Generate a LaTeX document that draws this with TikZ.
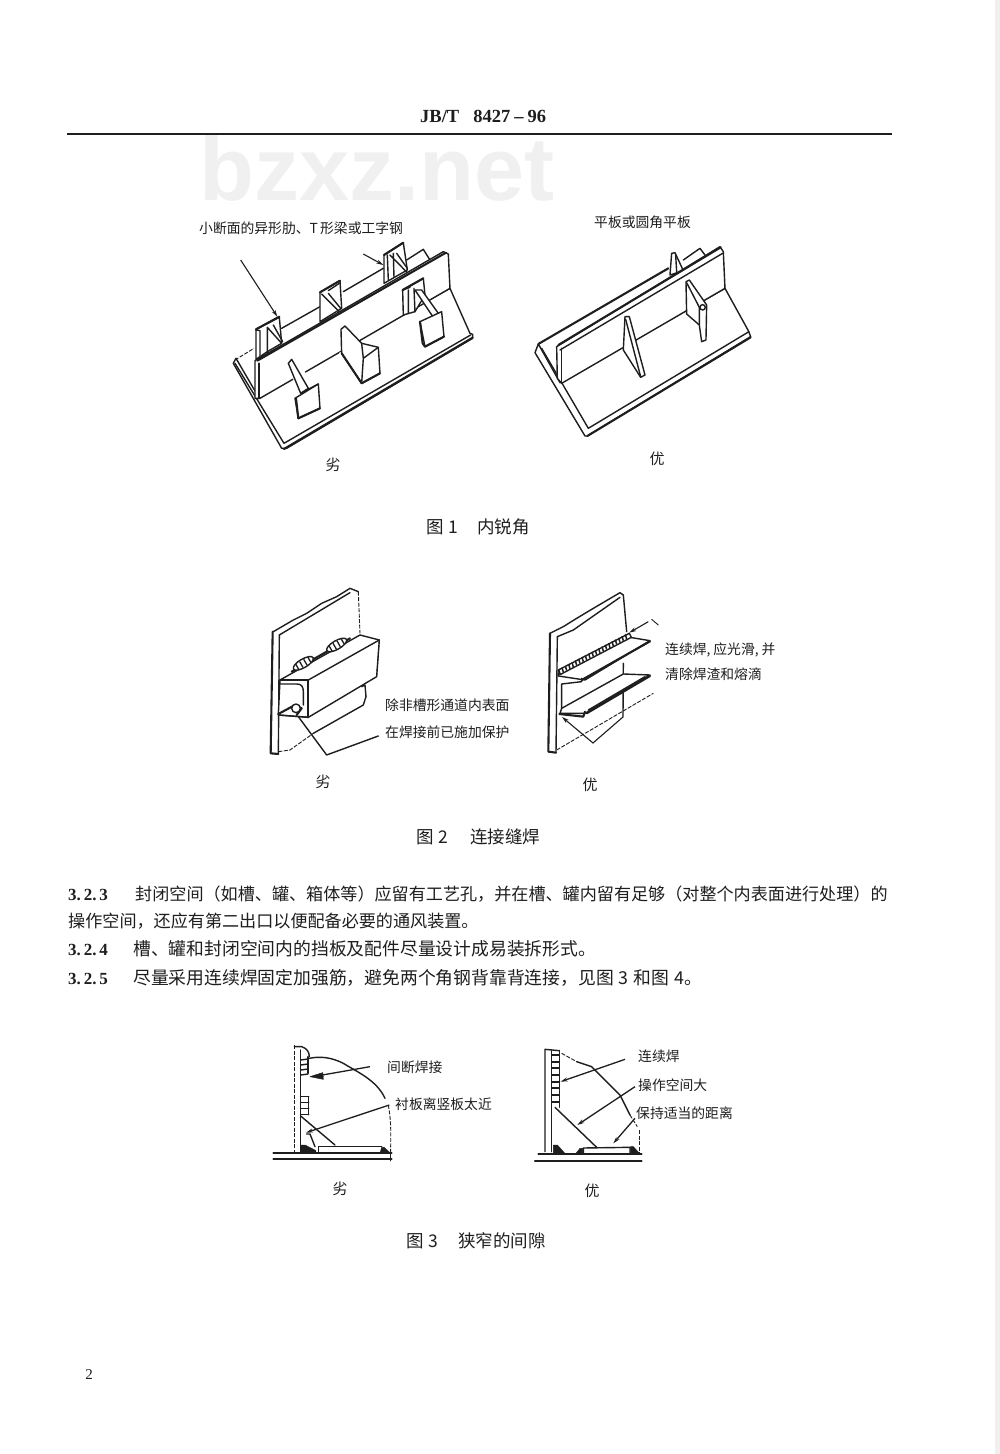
\documentclass[tikz,border=0pt]{standalone}
\usepackage{fontspec}
\setmainfont{Liberation Serif}
\newfontfamily\cjk{Noto Sans CJK SC}
\newfontfamily\wm{Liberation Sans}
\usetikzlibrary{arrows.meta}
\definecolor{ink}{HTML}{1E1E1E}
\newcommand{\qcm}{\char"FF0C\relax}
\newcommand{\qlp}{\char"FF08\relax}
\newcommand{\qrp}{\char"FF09\relax}
\tikzset{
 fig/.style={x=.3333pt,y=-.3333pt,shift={(#1)}},
 ln/.style={draw=ink,line width=1.4pt,line join=round,line cap=round},
 hv/.style={draw=ink,line width=2.1pt,line join=round,line cap=round},
 thn/.style={draw=ink,line width=.9pt,line join=round,line cap=round},
 dsh/.style={draw=ink,line width=.9pt,dash pattern=on 4pt off 1.5pt},
 face/.style={ln,fill=white},
 wfill/.style={fill=ink,draw=ink,line width=.5pt,line join=round},
 lead/.style={draw=ink,line width=1.1pt,-{Stealth[length=7pt,width=4pt]}},
 lab/.style={inner sep=0pt,anchor=base west,text=ink,font=\cjk\fontsize{13.8}{14}\selectfont},
 body/.style={inner sep=0pt,anchor=base west,text=ink,font=\cjk\fontsize{17.1}{17}\selectfont},
 bodyw/.style={body,font=\cjk\fontsize{17.8}{18}\selectfont},
 num/.style={inner sep=0pt,anchor=base west,text=ink,font=\bfseries\fontsize{17}{17}\selectfont},
 cpt/.style={inner sep=0pt,anchor=center,text=ink,font=\cjk\fontsize{15}{16}\selectfont},
 ttl/.style={inner sep=0pt,anchor=base west,text=ink,font=\cjk\fontsize{17.5}{18}\selectfont},
}
\begin{document}
\begin{tikzpicture}[x=1pt,y=-1pt]
\useasboundingbox (0,0) rectangle (1000,1454);
\fill[white] (0,0) rectangle (1000,1454);
\fill[black!6] (995,0) rectangle (1000,1454);
% header
\node[inner sep=0pt,anchor=base west,text=black!6,font=\wm\bfseries\fontsize{90}{90}\selectfont] (wm) at (199,200) {bzxz.net};
\node[inner sep=0pt,anchor=base west,text=ink,font=\bfseries\fontsize{18.5}{18}\selectfont] (hd) at (420,122) {JB/T\hspace{14pt}8427\hspace{4pt}--\hspace{4pt}96};
\coordinate (ra) at (67,134); \coordinate (rb) at (892,134);
\draw[ink,line width=1.1pt] (ra) -- (rb);

% ---------- Fig 1 left
\begin{scope}[fig={180pt,-200pt}]
 \draw[dsh] (165,480)--(222,445);
 \draw[ln] (305,385)--(420,320) (490,275)--(610,205) (680,180)--(730,148)--(750,180);
 % rear ribs
 \draw[face] (228,478)--(228,388)--(298,352)--(305,430)--(262,455)--cycle;
 \draw[ln] (240,470)--(240,392) (262,460)--(262,382) (262,382)--(305,430) (280,375)--(308,425) (228,390)--(240,392);
 \draw[hv] (228,388)--(298,350);
 \draw[face] (420,365)--(420,277)--(480,242)--(485,325)--cycle;
 \draw[ln] (425,282)--(478,335) (445,280)--(482,325) (445,272)--(478,250);
 \draw[hv] (420,277)--(480,242);
 \draw[face] (612,250)--(612,165)--(670,128)--(682,210)--cycle;
 \draw[ln] (622,165)--(625,240) (640,160)--(642,230) (630,165)--(682,218) (650,160)--(682,205);
 \draw[hv] (612,165)--(670,128);
 % base plate
 \draw[face] (160,490)--(168,475)--(232,585)--(810,265)--(870,400)--(878,403)--(878,415)--(320,745)--(305,745)--cycle;
 \draw[ln] (165,490)--(312,730)--(872,405);
 \draw[hv] (312,747)--(878,413);
 % vertical plate
 \draw[face] (225,482)--(790,155)--(805,162)--(810,265)--(240,595)--(225,595)--cycle;
 \draw[hv] (232,482)--(798,158);
 \draw[hv] (236,490)--(236,595);
 \draw[draw=white,line width=3pt] (340,538)--(375,516) (480,462)--(545,428);
 % front ribs
 \draw[face] (668,270)--(730,235)--(735,285)--(705,335)--(670,345)--cycle;
 \draw[ln] (685,270)--(685,340) (702,265)--(705,335) (668,270)--(690,262);
 \draw[hv] (668,270)--(730,235);
 \draw[face] (705,270)--(725,270)--(775,340)--(760,352)--cycle;
 \draw[face] (720,365)--(785,335)--(792,410)--(735,440)--cycle;
 \draw[hv] (735,440)--(792,410) (720,365)--(728,430)--(735,440);
 \draw[face] (483,388)--(495,378)--(545,430)--(595,442)--(600,520)--(545,550)--(485,460)--cycle;
 \draw[ln] (545,430)--(550,475)--(545,550) (550,475)--(595,442);
 \draw[hv] (485,460)--(545,550)--(600,520);
 \draw[face] (325,490)--(335,478)--(385,565)--(362,580)--cycle;
 \draw[face] (345,595)--(415,552)--(420,625)--(355,655)--cycle;
 \draw[ln] (362,580)--(415,552);
 \draw[hv] (355,655)--(420,625);
 \draw[hv] (348,595)--(355,655);
 % leaders
 \coordinate (a1) at (182,180); \coordinate (a1e) at (292,350);
 \coordinate (a2) at (550,162); \coordinate (a2e) at (610,195);
 \draw[lead] (a1)--(a1e);
 \draw[lead] (a2)--(a2e);
\end{scope}
\node[lab] (t1) at (199,233) {小断面的异形肋、T\,形梁或工字钢};
\node[cpt] (t2) at (333,465) {劣};

% ---------- Fig 1 right
\begin{scope}[fig={510pt,-200pt}]
 \draw[hv] (85,432)--(475,205);
 \draw[ln] (520,180)--(570,145)--(585,165);
 \draw[face] (480,225)--(485,160)--(495,158)--(520,212)--cycle;
 \draw[ln] (497,165)--(500,215);
 % base
 \draw[face] (75,458)--(85,432)--(150,548)--(645,265)--(715,392)--(722,410)--(232,708)--(225,708)--cycle;
 \draw[ln] (95,445)--(235,685)--(717,395);
 \draw[hv] (232,708)--(722,412);
 % plate
 \draw[face] (140,440)--(630,140)--(640,155)--(645,265)--(155,550)--(142,535)--cycle;
 \draw[hv] (145,435)--(632,142);
 \draw[ln] (150,450)--(638,160);
 \draw[ln] (155,445)--(155,550);
 % ribs
 \draw[face] (340,450)--(345,350)--(358,350)--(405,525)--(392,532)--cycle;
 \draw[ln] (347,358)--(392,530);
 \draw[face] (530,342)--(528,245)--(538,240)--(590,315)--(588,420)--(575,425)--(568,375)--cycle;
 \draw[ln] (530,248)--(568,322)--(568,375);
 \draw[face] (578,322) circle [radius=8];
\end{scope}
\node[lab] (t3) at (594,227) {平板或圆角平板};
\node[cpt] (t4) at (657,459) {优};
\node[ttl] (c1) at (426,533) {图\hspace{5pt}1\hspace{19pt}内锐角};

% ---------- Fig 2 left
\begin{scope}[fig={250pt,-580pt}]
 \draw[ln] (70,155)--(130,120)--(170,100)--(215,70)--(260,50)--(300,25)--(325,35);
 \draw[dsh] (325,35)--(330,160);
 \draw[ln] (88,165)--(300,38);
 \draw[hv] (68,155)--(62,520)--(85,522);
 \draw[ln] (88,165)--(85,520);
 \draw[dsh] (85,515)--(120,510)--(190,460);
 \draw[ln] (190,460)--(340,375)--(348,350);
 \draw[ln] (335,320)--(345,315)--(348,350);
 \draw[face] (90,300)--(330,165)--(388,180)--(380,290)--(175,412)--(85,405)--cycle;
 \draw[ln] (175,300)--(388,180);
 \draw[hv] (90,300)--(175,300)--(175,412);
 \draw[ln] (92,312)--(140,312) .. controls (155,312) and (160,320) .. (160,335)--(160,375);
 \draw[ln] (85,405)--(175,412);
 \draw[hv] (85,402)--(135,375)--(155,385)--(140,405);
 \draw[ln,fill=white] (138,385) circle [radius=13];
 \draw[dsh] (388,180)--(380,290);
 \draw[hv] (125,275)--(300,175);
 \foreach \c in {(160,250),(260,195)}
  \draw[ln,fill=white,shift={\c},rotate=30] (0,0) ellipse [x radius=34,y radius=13];
 \foreach \c in {(160,250),(260,195)}
  \foreach \d in {-21,-7,7,21}
   \draw[draw=ink,line width=1.3pt,shift={\c},rotate=30] (\d,-10)--(\d,10);
 \coordinate (b1) at (145,410); \coordinate (b2) at (230,525); \coordinate (b3) at (385,468);
 \draw[ln] (b1)--(b2)--(b3);
\end{scope}
\node[lab] (t5) at (385,710) {除非槽形通道内表面};
\node[lab] (t6) at (385,737) {在焊接前已施加保护};
\node[cpt] (t7) at (323,782) {劣};

% ---------- Fig 2 right
\begin{scope}[fig={530pt,-580pt}]
 \draw[ln] (60,160)--(100,140)--(140,115)--(190,85)--(270,38)--(280,45);
 \draw[ln] (280,45)--(290,155);
 \draw[ln] (82,170)--(130,150)--(270,52);
 \draw[hv] (60,160)--(55,515)--(78,518);
 \draw[ln] (82,170)--(78,518);
 \draw[dsh] (80,510)--(370,340);
 \draw[ln] (280,250)--(279,411);
 % upper angle
 \draw[face] (85,280)--(300,172)--(360,182)--(165,300)--(85,288)--cycle;
 \draw[hv] (155,300)--(360,184);
 \draw[face] (85,270)--(298,160)--(304,172)--(90,284)--cycle;
 \foreach \i in {0,...,20}
  \draw[draw=ink,line width=1.5pt] ({90+\i*10},{282-\i*5.25})--({86+\i*10},{268-\i*5.25});
 \draw[ln] (155,295)--(155,305)--(95,312)--(95,385);
 % lower angle
 \draw[face] (95,385)--(280,282)--(360,285)--(165,400)--(90,400)--cycle;
 \draw[hv] (170,400)--(360,288);
 \draw[ln] (175,390)--(345,290);
 \draw[hv] (88,402)--(160,410)--(165,395);
 \coordinate (c1a) at (385,135); \coordinate (c1b) at (365,118); \coordinate (c1c) at (355,125); \coordinate (c1d) at (298,158);
 \draw[thn] (c1a)--(c1b);
 \draw[lead] (c1c)--(c1d);
 \coordinate (c2) at (279,411); \coordinate (c3) at (189,489); \coordinate (c4) at (96,411);
 \draw[lead] (c2)--(c3)--(c4);
\end{scope}
\node[lab] (t8) at (665,654) {连续焊,\hspace{3pt}应光滑,\hspace{3pt}并};
\node[lab] (t9) at (665,679) {清除焊渣和熔滴};
\node[cpt] (t10) at (590,785) {优};
\node[ttl] (c2n) at (416,843) {图\hspace{5pt}2\hspace{22pt}连接缝焊};

% ---------- body text
\node[num] (n1) at (68,900) {3.\,2.\,3};
\node[body] (b1t) at (135,900) {封闭空间\qlp 如槽、罐、箱体等\qrp 应留有工艺孔\qcm 并在槽、罐内留有足够\qlp 对整个内表面进行处理\qrp 的};
\node[body] (b2t) at (68,927) {操作空间\qcm 还应有第二出口以便配备必要的通风装置。};
\node[num] (n2) at (68,955) {3.\,2.\,4};
\node[bodyw] (b3t) at (133,955) {槽、罐和封闭空间内的挡板及配件尽量设计成易装拆形式。};
\node[num] (n3) at (68,984) {3.\,2.\,5};
\node[bodyw] (b4t) at (133,984) {尽量采用连续焊固定加强筋\qcm 避免两个角钢背靠背连接\qcm 见图\hspace{5pt}3\hspace{5pt}和图\hspace{5pt}4。};

% ---------- Fig 3 left
\begin{scope}[fig={260pt,-1030pt}]
 \draw[dsh] (103,45)--(103,365);
 \draw[ln] (103,50)--(125,50) .. controls (140,55) and (148,65) .. (148,80);
 \draw[ln] (122,60)--(122,365);
 \foreach \y in {90,105,120,135} \draw[ln] (122,\y)--(144,\y-3);
 \draw[ln] (144,80)--(144,130);
 \foreach \y in {200,218,236,254} \draw[ln] (122,\y)--(146,\y);
 \draw[ln] (146,200)--(146,254);
 \draw[ln] (148,85) .. controls (180,78) and (215,82) .. (250,100) .. controls (290,125) and (350,150) .. (375,205);
 \draw[dsh] (385,225) .. controls (395,280) and (392,320) .. (392,365);
 \draw[ln] (122,258)--(225,345);
 \draw[ln] (140,312)--(150,312)--(165,350);
 \draw[ln] (175,365)--(175,350)--(365,350);
 \draw[hv] (40,370)--(395,370);
 \draw[hv] (40,388)--(395,388);
 \draw[ln] (392,365)--(392,392);
 \draw[wfill] (122,345)--(135,345)--(168,362)--(168,370)--(122,370)--cycle;
 \draw[wfill] (365,352)--(372,352)--(392,370)--(360,370)--cycle;
 \coordinate (d1) at (330,110); \coordinate (d1e) at (170,138);
 \coordinate (d2) at (388,225); \coordinate (d2e) at (138,308);
 \draw[lead,line width=1.3pt] (d1)--(d1e);
 \draw[lead,line width=1.3pt] (d2)--(d2e);
 \draw[wfill] (150,140) -- (175,132) -- (188,128) -- (190,148) -- cycle;
\end{scope}
\node[lab] (t11) at (387,1072) {间断焊接};
\node[lab] (t12) at (395,1109) {衬板离竖板太近};
\node[cpt] (t13) at (340,1189) {劣};

% ---------- Fig 3 right
\begin{scope}[fig={520pt,-1030pt}]
 \draw[ln] (75,365)--(75,58)--(118,62);
 \draw[ln] (95,62)--(95,365);
 \draw[ln] (118,62)--(118,232);
 \foreach \y in {75,95,115,135,155,175,195,215} \draw[hv] (97,\y)--(116,\y);
 \draw[dsh] (125,70)--(170,95);
 \draw[ln] (170,95)--(215,110)--(300,195)--(330,255);
 \draw[dsh] (330,255)--(352,290);
 \draw[dsh] (357,300)--(357,370);
 \draw[ln] (105,232)--(230,352);
 \draw[ln] (190,372)--(190,354)--(330,352)--(330,372);
 \draw[hv] (55,372)--(365,372);
 \draw[hv] (45,392)--(365,392);
 \draw[wfill] (100,345)--(112,345)--(138,374)--(100,374)--cycle;
 \draw[wfill] (165,374)--(180,355)--(188,355)--(188,374)--cycle;
 \draw[wfill] (332,350)--(340,350)--(362,374)--(332,374)--cycle;
 \coordinate (e1) at (315,88); \coordinate (e1e) at (122,155);
 \coordinate (e2) at (345,170); \coordinate (e2e) at (172,285);
 \coordinate (e3) at (345,265); \coordinate (e3e) at (280,340);
 \draw[lead,line width=1.3pt] (e1)--(e1e);
 \draw[lead,line width=1.3pt] (e2)--(e2e);
 \draw[lead,line width=1.3pt] (e3)--(e3e);
\end{scope}
\node[lab] (t14) at (638,1061) {连续焊};
\node[lab] (t15) at (638,1090) {操作空间大};
\node[lab] (t16) at (636,1118) {保持适当的距离};
\node[cpt] (t17) at (592,1191) {优};
\node[ttl] (c3n) at (406,1247) {图\hspace{5pt}3\hspace{20pt}狭窄的间隙};

\node[inner sep=0pt,text=ink,font=\fontsize{15}{15}\selectfont] (pg) at (89,1375) {2};
\end{tikzpicture}
\end{document}
